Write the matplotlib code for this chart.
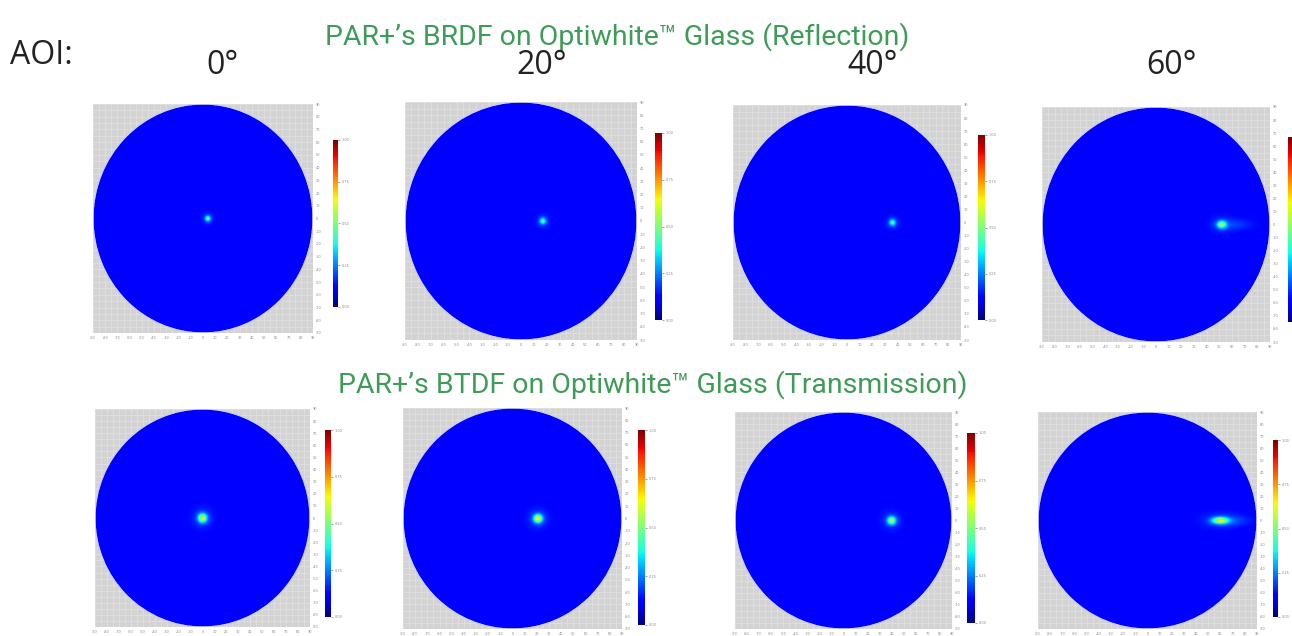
import numpy as np
import matplotlib.pyplot as plt
from matplotlib.patches import Circle

# angles of incidence
aoi = ['0°', '20°', '40°', '60°']

# specular spot, reflection row (deg from centre, peak on the colour scale, spread in deg)
refl_x = [4, 17, 36, 52]
refl_peak = [0.42, 0.40, 0.40, 0.47]
refl_wx = [1.6, 1.8, 1.8, 2.6]
refl_wy = [1.6, 1.8, 1.8, 2.0]
refl_tail = [0.0, 0.0, 0.0, 0.06]

# transmitted spot, transmission row
trans_x = [0, 21, 40, 60]
trans_peak = [0.55, 0.58, 0.50, 0.56]
trans_wx = [2.6, 2.5, 2.5, 4.6]
trans_wy = [2.6, 2.4, 2.4, 1.9]
trans_tail = [0.0, 0.0, 0.0, 0.05]

background = 0.12
ticks = np.arange(-90, 91, 10)
cbar_ticks = [0.0, 0.25, 0.5, 0.75, 1.0]

# panel boxes in pixels (left, top, right, bottom) and colour bars
W, H = 1292, 636
row1 = [(93, 104, 313, 333), (405, 102, 637, 340), (733, 105, 961, 340), (1042, 107, 1270, 342)]
row1_cb = [(333, 140, 338, 307), (655, 133, 662, 320), (978, 135, 985, 320), (1288, 137, 1295, 322)]
row2 = [(95, 409, 310, 627), (403, 408, 622, 629), (735, 412, 952, 629), (1038, 412, 1257, 629)]
row2_cb = [(325, 430, 331, 617), (638, 430, 645, 625), (967, 433, 975, 623), (1273, 440, 1278, 617)]


def rect(box):
    l, t, r, b = box
    return [l / W, 1 - b / H, (r - l) / W, (b - t) / H]


g = np.linspace(-90, 90, 400)
X, Y = np.meshgrid(g, g)


def field(cx, peak, wx, wy, tail):
    z = background + (peak - background) * np.exp(-((X - cx) ** 2 / (2 * wx ** 2) + Y ** 2 / (2 * wy ** 2)))
    z += 0.15 * (peak - background) * np.exp(-((X - cx) ** 2 / (2 * (2.5 * wx) ** 2) + Y ** 2 / (2 * (2.5 * wy) ** 2)))
    if tail:
        z += tail * np.exp(-((X - cx - 12) ** 2 / (2 * 9 ** 2) + Y ** 2 / (2 * 3 ** 2)))
    return np.ma.masked_where(X ** 2 + Y ** 2 > 90 ** 2, z)


def panel(box, cbox, cx, peak, wx, wy, tail, cb_labels=True):
    ax = fig.add_axes(rect(box))
    ax.set_facecolor('#d3d3d3')
    ax.set_xticks(np.arange(-90, 91, 5), minor=True)
    ax.set_yticks(np.arange(-90, 91, 5), minor=True)
    ax.grid(True, which='both', color='#e2e2e2', linewidth=0.5)
    ax.set_axisbelow(True)
    im = ax.imshow(field(cx, peak, wx, wy, tail), extent=[-90, 90, -90, 90], origin='lower',
                   cmap='jet', vmin=0, vmax=1, aspect='auto', interpolation='bilinear', zorder=2)
    ax.add_patch(Circle((0, 0), 90, fill=False, edgecolor='#c9cfff', linewidth=0.8, zorder=3))
    ax.set_xlim(-90, 90)
    ax.set_ylim(-90, 90)
    ax.set_xticks(ticks)
    ax.set_yticks(ticks)
    ax.set_xticklabels([str(t) for t in ticks])
    ax.set_yticklabels([str(t) for t in ticks])
    ax.yaxis.tick_right()
    ax.tick_params(which='both', length=0, labelsize=2.5, labelcolor='#8a8a8a', pad=2)
    for s in ax.spines.values():
        s.set_visible(False)
    cax = fig.add_axes(rect(cbox))
    cb = fig.colorbar(im, cax=cax, ticks=cbar_ticks)
    cb.outline.set_visible(False)
    cax.tick_params(length=1.5, width=0.4, labelsize=2.5, labelcolor='#8a8a8a', color='#555555', pad=1)
    if not cb_labels:
        # this bar runs off the right edge of the picture
        cax.set_yticklabels([])


fig = plt.figure(figsize=(W / 100, H / 100), dpi=100)

for i in range(4):
    panel(row1[i], row1_cb[i], refl_x[i], refl_peak[i], refl_wx[i], refl_wy[i], refl_tail[i],
          cb_labels=(i < 3))
    panel(row2[i], row2_cb[i], trans_x[i], trans_peak[i], trans_wx[i], trans_wy[i], trans_tail[i])

green = '#3f9b58'
fig.text(617 / W, 1 - 37 / H, 'PAR+\u2019s BRDF on Optiwhite\u2122 Glass (Reflection)',
         family='Roboto', fontsize=20.5, color=green, ha='center', va='center')
fig.text(653 / W, 1 - 385 / H, 'PAR+\u2019s BTDF on Optiwhite\u2122 Glass (Transmission)',
         family='Roboto', fontsize=20.5, color=green, ha='center', va='center')

fig.text(10 / W, 1 - 56 / H, 'AOI:', family='Open Sans', fontsize=23, color='#222222',
         ha='left', va='center')
for x, lab in zip([222, 542, 873, 1172], aoi):
    fig.text(x / W, 1 - 65 / H, lab, family='Open Sans', fontsize=23, color='#222222',
             ha='center', va='center')

fig.savefig('out.png', dpi=100, facecolor='white')
